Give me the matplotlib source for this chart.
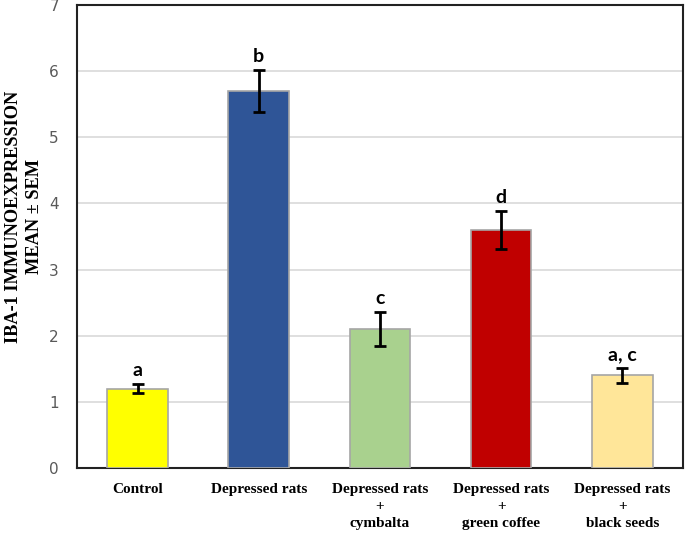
import numpy as np
import matplotlib
matplotlib.use("Agg")
import matplotlib.pyplot as plt

groups = ["Control", "Depressed rats", "Depressed rats\n+\ncymbalta",
          "Depressed rats\n+\ngreen coffee", "Depressed rats\n+\nblack seeds"]
means = [1.2, 5.7, 2.1, 3.6, 1.4]
sems = [0.07, 0.32, 0.26, 0.29, 0.11]
letters = ["a", "b", "c", "d", "a, c"]
colors = ["#FFFF00", "#2F5597", "#A9D18E", "#C00000", "#FFE699"]

fig = plt.figure(figsize=(6.85, 5.34), dpi=100)
ax = fig.add_axes([0.1124, 0.1236, 0.8846, 0.867])

x = np.arange(len(groups))
ax.bar(x, means, width=0.5, color=colors, edgecolor="#a6a6a6", linewidth=1.2, zorder=3)
ax.errorbar(x, means, yerr=sems, fmt="none", ecolor="black", elinewidth=2,
            capsize=4, capthick=2, zorder=4)

for xi, m, s, t in zip(x, means, sems, letters):
    ax.text(xi, m + s + 0.07, t, ha="center", va="bottom", fontsize=14,
            fontweight="bold", family="Lato")

ax.set_xlim(-0.5, 4.5)
ax.set_ylim(0, 7)
ax.set_yticks(range(8))
ax.yaxis.grid(True, color="#d9d9d9", linewidth=1.2, zorder=0)
ax.set_axisbelow(True)
ax.tick_params(axis="both", length=0)
ax.tick_params(axis="y", labelsize=11, labelcolor="#595959", pad=13)
ax.set_xticks(x)
ax.set_xticklabels(groups, family="Liberation Serif", fontweight="bold",
                   fontsize=11, linespacing=1.38)
ax.tick_params(axis="x", pad=11)
for sp in ax.spines.values():
    sp.set_color("#222222")
    sp.set_linewidth(1.5)

# y label placed by hand so it sits at the left edge like the original
fig.text(0.035, 0.594, "IBA-1 IMMUNOEXPRESSION\nMEAN \u00b1 SEM", rotation=90,
         ha="center", va="center", family="Liberation Serif", fontweight="bold",
         fontsize=13.2, linespacing=1.3)

fig.savefig("out.png", dpi=100)
